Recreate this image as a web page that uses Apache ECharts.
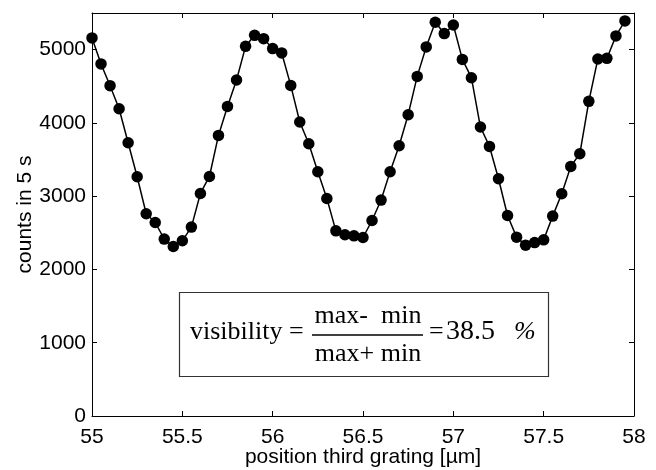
<!DOCTYPE html>
<html>
<head>
<meta charset="utf-8">
<script src="https://cdn.jsdelivr.net/npm/echarts@6/dist/echarts.min.js"></script>
<style>
html,body{margin:0;padding:0;background:#fff;}
#c{width:656px;height:470px;}
</style>
</head>
<body>
<div id="c"></div>
<script>
// Data
var xStart = 55, xStep = 0.05;
var counts = [
  5160, 4805, 4508, 4194, 3730, 3265, 2760, 2641, 2414, 2313,
  2391, 2578, 3037, 3269, 3829, 4225, 4586, 5045, 5195, 5150,
  5014, 4955, 4512, 4012, 3716, 3333, 2969, 2527, 2473, 2459,
  2436, 2668, 2947, 3333, 3689, 4112, 4635, 5037, 5373, 5219,
  5337, 4867, 4617, 3944, 3679, 3238, 2736, 2441, 2332, 2367,
  2404, 2728, 3033, 3406, 3579, 4294, 4873, 4881, 5187, 5392
];
var positions = counts.map(function (v, i) { return +(xStart + i * xStep).toFixed(2); });
var xTicks = [55, 55.5, 56, 56.5, 57, 57.5, 58];
var yTicks = [0, 1000, 2000, 3000, 4000, 5000];
var xTitle = 'position third grating [\u00b5m]';
var yTitle = 'counts in 5 s';
var visibilityValue = '38.5';

var seriesData = positions.map(function (x, i) { return [x, counts[i]]; });

var chart = echarts.init(document.getElementById('c'), null, {renderer: 'canvas'});
var sans = 'Liberation Sans, Arial, sans-serif';
var serif = 'Liberation Serif, Times New Roman, serif';
var axisLine = {show: true, onZero: false, lineStyle: {color: '#000', width: 1}};
var tick = {show: true, inside: true, length: 5, lineStyle: {color: '#000', width: 1}};

chart.setOption({
  animation: false,
  backgroundColor: '#fff',
  grid: {left: 92, right: 22, top: 13, bottom: 54, containLabel: false, outerBoundsMode: 'none'},
  xAxis: [{
    type: 'value', min: 55, max: 58, interval: 0.5, position: 'bottom',
    axisLine: axisLine, axisTick: tick, splitLine: {show: false},
    axisLabel: {color: '#000', fontFamily: sans, fontSize: 21, margin: 11,
      formatter: function (v) { return xTicks.indexOf(+v.toFixed(2)) >= 0 ? String(+v.toFixed(2)) : ''; }},
    name: xTitle, nameLocation: 'middle', nameGap: 31, nameMoveOverlap: false,
    nameTextStyle: {color: '#000', fontFamily: sans, fontSize: 21}
  }, {
    type: 'value', min: 55, max: 58, interval: 0.5, position: 'top',
    axisLine: axisLine, axisTick: tick, splitLine: {show: false}, axisLabel: {show: false}
  }],
  yAxis: [{
    type: 'value', min: 0, max: 5500, interval: 1000, position: 'left',
    axisLine: axisLine, axisTick: tick, splitLine: {show: false},
    axisLabel: {color: '#000', fontFamily: sans, fontSize: 21, margin: 6, showMaxLabel: false,
      formatter: function (v) { return yTicks.indexOf(v) >= 0 ? String(v) : ''; }},
    name: yTitle, nameLocation: 'middle', nameGap: 56, nameRotate: 90, nameMoveOverlap: false,
    nameTextStyle: {color: '#000', fontFamily: sans, fontSize: 21}
  }, {
    type: 'value', min: 0, max: 5500, interval: 1000, position: 'right',
    axisLine: axisLine, axisTick: tick, splitLine: {show: false}, axisLabel: {show: false}
  }],
  series: [{
    type: 'line',
    data: seriesData,
    symbol: 'circle', symbolSize: 11.5, showSymbol: true,
    lineStyle: {color: '#000', width: 1.5},
    itemStyle: {color: '#000', borderWidth: 0},
    emphasis: {disabled: true}
  }],
  graphic: [
    {type: 'rect', shape: {x: 179.5, y: 292.5, width: 369, height: 84},
      style: {fill: '#fff', stroke: '#333', lineWidth: 1.2}},
    {type: 'text', x: 190, y: 332, style: {text: 'visibility =', font: '26px ' + serif, fill: '#000', verticalAlign: 'middle'}},
    {type: 'text', x: 368, y: 316, style: {text: 'max-  min', font: '26px ' + serif, fill: '#000', align: 'center', verticalAlign: 'middle'}},
    {type: 'line', shape: {x1: 312, y1: 335, x2: 423, y2: 335}, style: {stroke: '#000', lineWidth: 1.3}},
    {type: 'text', x: 368, y: 354, style: {text: 'max+ min', font: '26px ' + serif, fill: '#000', align: 'center', verticalAlign: 'middle'}},
    {type: 'text', x: 429, y: 332, style: {text: '=', font: '26px ' + serif, fill: '#000', verticalAlign: 'middle'}},
    {type: 'text', x: 446, y: 331.5, style: {text: visibilityValue, font: '28px ' + serif, fill: '#000', verticalAlign: 'middle'}},
    {type: 'text', x: 514, y: 332, style: {text: '%', font: 'italic 26px ' + serif, fill: '#000', verticalAlign: 'middle'}}
  ]
});
</script>
</body>
</html>
